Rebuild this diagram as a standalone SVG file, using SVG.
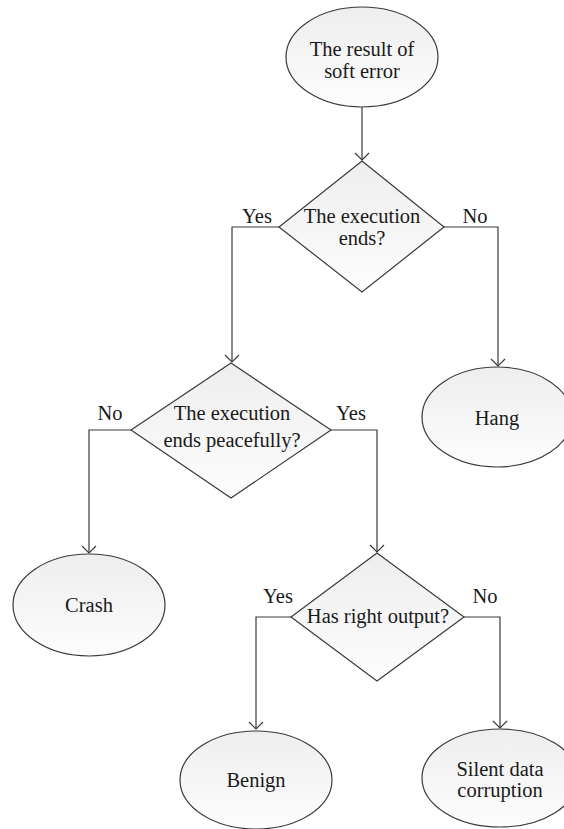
<svg xmlns="http://www.w3.org/2000/svg" width="564" height="829" viewBox="0 0 564 829">
<defs>
<linearGradient id="g" x1="0" y1="0" x2="0" y2="1">
<stop offset="0" stop-color="#eeeeee"/>
<stop offset="1" stop-color="#fdfdfd"/>
</linearGradient>
<marker id="arr" viewBox="-10 -10 20 20" markerWidth="20" markerHeight="20" refX="0" refY="0" orient="auto" markerUnits="userSpaceOnUse">
<path d="M-7,-7 L0,0 L-7,7" fill="none" stroke="#3a3a3a" stroke-width="1.2"/>
</marker>
</defs>
<style>
.shape{fill:url(#g);stroke:#3a3a3a;stroke-width:1.2}
.conn{fill:none;stroke:#3a3a3a;stroke-width:1.2;marker-end:url(#arr)}
text{font-family:"Liberation Serif","Times New Roman",serif;font-size:20.5px;fill:#1a1a1a;text-anchor:middle}
</style>
<rect width="564" height="829" fill="#ffffff"/>
<g id="connectors">
<path class="conn" d="M362,107 L362,160"/>
<path class="conn" d="M279,227 L232,227 L232,362"/>
<path class="conn" d="M444,227 L498,227 L498,366"/>
<path class="conn" d="M131,430 L89,430 L89,553"/>
<path class="conn" d="M331,430 L377,430 L377,552"/>
<path class="conn" d="M291,617 L256,617 L256,729"/>
<path class="conn" d="M464,617 L500,617 L500,728"/>
<text x="257" y="223">Yes</text>
<text x="475" y="223">No</text>
<text x="110" y="420">No</text>
<text x="351" y="420">Yes</text>
<text x="278" y="603">Yes</text>
<text x="485" y="603">No</text>
</g>
<g id="start">
<ellipse class="shape" cx="362" cy="57" rx="76" ry="50"/>
<text x="362" y="56">The result of</text>
<text x="362" y="78">soft error</text>
</g>
<g id="decision1">
<polygon class="shape" points="362,161 444,227 362,292 279,227"/>
<text x="362" y="223">The execution</text>
<text x="362" y="245">ends?</text>
</g>
<g id="hang">
<ellipse class="shape" cx="497" cy="417" rx="75" ry="50"/>
<text x="497" y="425">Hang</text>
</g>
<g id="decision2">
<polygon class="shape" points="231,363 331,430 231,498 131,430"/>
<text x="232" y="420">The execution</text>
<text x="232" y="447">ends peacefully?</text>
</g>
<g id="crash">
<ellipse class="shape" cx="89" cy="605" rx="76" ry="51"/>
<text x="89" y="612">Crash</text>
</g>
<g id="decision3">
<polygon class="shape" points="377,553 464,617 377,681 291,617"/>
<text x="378" y="623">Has right output?</text>
</g>
<g id="benign">
<ellipse class="shape" cx="256" cy="780" rx="76" ry="49"/>
<text x="256" y="787">Benign</text>
</g>
<g id="sdc">
<ellipse class="shape" cx="500" cy="778" rx="78" ry="49"/>
<text x="500" y="776">Silent data</text>
<text x="500" y="797">corruption</text>
</g>
</svg>
